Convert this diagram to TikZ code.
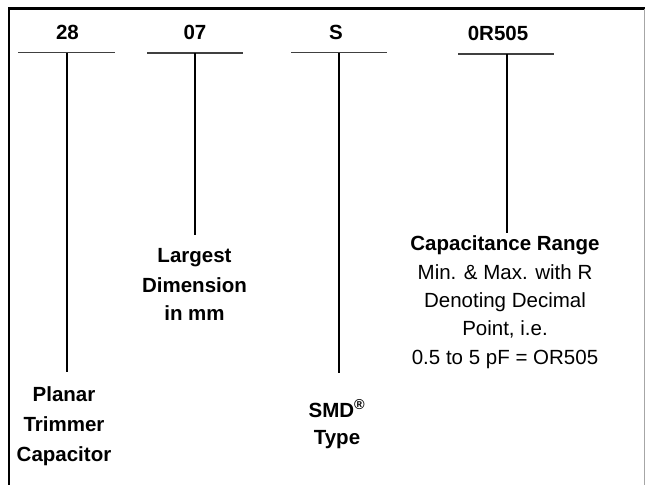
\documentclass[tikz,border=0pt]{standalone}
\usepackage{fontspec}
\setmainfont{Liberation Sans}
\begin{document}
\begin{tikzpicture}[x=1pt,y=-1pt,
  code/.style={font=\fontsize{20.5}{24}\selectfont\bfseries, inner sep=0pt, anchor=base},
  bold/.style={font=\fontsize{20.5}{24}\selectfont\bfseries, inner sep=0pt, anchor=base},
  plain/.style={font=\fontsize{20.5}{24}\selectfont, inner sep=0pt, anchor=base},
  uline/.style={line width=1.5pt, draw=black!75},
  vline/.style={line width=1.5pt, draw=black},
  frame/.style={line width=2.2pt, draw=black}]
\useasboundingbox (0,0) rectangle (645,485);
% frame
\coordinate (ftl) at (9,8.5);
\coordinate (ftr) at (645,8.5);
\coordinate (fbl) at (9,485);
\coordinate (rtop) at (644,8.5);
\coordinate (rbot) at (644,485);
\draw[frame] (ftr) -- (ftl) -- (fbl);
\draw[line width=1pt, draw=black!35] (rtop) -- (rbot);

% codes
\node[code] (c28) at (67.5,39) {28};
\node[code] (c07) at (195,39) {07};
\node[code] (cS)  at (336,39) {S};
\node[code] (cR)  at (498,40.5) {0R505};

% underlines
\coordinate (u28a) at (18,52.5);  \coordinate (u28b) at (115,52.5);
\coordinate (u07a) at (147,53);   \coordinate (u07b) at (243,53);
\coordinate (uSa)  at (291,52.5); \coordinate (uSb)  at (387,52.5);
\coordinate (uRa)  at (458,54);   \coordinate (uRb)  at (554,54);
\draw[uline] (u28a) -- (u28b);
\draw[uline] (u07a) -- (u07b);
\draw[uline] (uSa) -- (uSb);
\draw[uline] (uRa) -- (uRb);

% vertical connectors
\coordinate (v28t) at (67,52.5);  \coordinate (v28e) at (67,372);
\coordinate (v07t) at (195,53);   \coordinate (v07e) at (195,235);
\coordinate (vSt)  at (339,52.5); \coordinate (vSe)  at (339,373);
\coordinate (vRt)  at (507,54);   \coordinate (vRe)  at (507,233);
\draw[vline] (v28t) -- (v28e);
\draw[vline] (v07t) -- (v07e);
\draw[vline] (vSt) -- (vSe);
\draw[vline] (vRt) -- (vRe);

% Planar Trimmer Capacitor
\node[bold] (p1) at (64,401) {Planar};
\node[bold] (p2) at (64,431) {Trimmer};
\node[bold] (p3) at (64,461) {Capacitor};

% Largest Dimension in mm
\node[bold] (l1) at (194.5,262) {Largest};
\node[bold] (l2) at (194.5,292) {Dimension};
\node[bold] (l3) at (194.5,320.5) {in mm};

% SMD Type
\node[bold] (s1) at (337,417) {SMD\textsuperscript{®}};
\node[bold] (s2) at (337,444) {Type};

% Capacitance Range
\node[bold]  (r1) at (505,250) {Capacitance Range};
\node[plain] (r2) at (505,279) {Min. \& Max. with R};
\node[plain] (r3) at (505,307) {Denoting Decimal};
\node[plain] (r4) at (505,335) {Point, i.e.};
\node[plain] (r5) at (505,364) {0.5 to 5 pF = OR505};
\end{tikzpicture}
\end{document}
